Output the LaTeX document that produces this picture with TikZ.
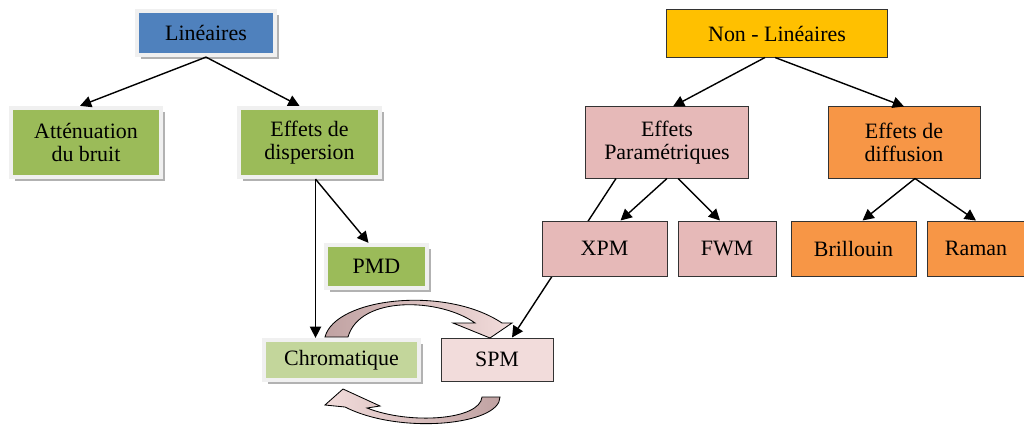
\documentclass[tikz,border=0pt]{standalone}
\usepackage{fontspec}
\setmainfont{Liberation Serif}
\usetikzlibrary{arrows.meta,shadows}

\definecolor{bleu}{HTML}{4F81BD}
\definecolor{vert}{HTML}{9BBB59}
\definecolor{vertclair}{HTML}{C3D69B}
\definecolor{jaune}{HTML}{FFC000}
\definecolor{rose}{HTML}{E6B9B8}
\definecolor{roseclair}{HTML}{F2DCDB}
\definecolor{orange}{HTML}{F79646}
\definecolor{rosefonce}{HTML}{C0A2A2}

\tikzset{
  lbox/.style={draw=black!6, line width=3pt, align=center, inner sep=0pt,
    drop shadow={shadow xshift=2.8pt, shadow yshift=-2.8pt, fill=black!30, opacity=1}},
  nbox/.style={draw=black!80, line width=0.7pt, align=center, inner sep=0pt},
  arr/.style={-{Triangle[length=8pt,width=8pt]}, line width=1pt},
}

\begin{document}
\begin{tikzpicture}[x=0.025cm, y=-0.025cm,
  every node/.style={font=\fontsize{15.6}{16.5}\selectfont}]
  \useasboundingbox (0,0) rectangle (1024,426);

  % effets lineaires
  \node[lbox, fill=bleu, minimum width=3.45cm, minimum height=1.1cm] (lin) at (206,33) {Linéaires};
  \node[lbox, fill=vert, minimum width=3.75cm, minimum height=1.725cm] (att) at (86,142.5) {Atténuation\\du bruit};
  \node[lbox, fill=vert, minimum width=3.525cm, minimum height=1.725cm] (disp) at (309.5,142.5) {Effets de\\dispersion};
  \node[lbox, fill=vert, minimum width=2.525cm, minimum height=1.075cm] (pmd) at (376.5,266.5) {PMD};
  \node[lbox, fill=vertclair, minimum width=3.875cm, minimum height=1.0cm] (chrom) at (341.5,360) {Chromatique};

  % effets non lineaires
  \node[nbox, fill=roseclair, minimum width=2.8cm, minimum height=1.075cm] (spm) at (497,359.5) {SPM};
  \node[nbox, fill=jaune, minimum width=5.5cm, minimum height=1.175cm] (nl) at (777,33.5) {Non - Linéaires};
  \node[nbox, fill=rose, minimum width=4.05cm, minimum height=1.775cm] (param) at (667,142.5) {Effets\\Paramétriques};
  \node[nbox, fill=orange, minimum width=3.8cm, minimum height=1.775cm] (diff) at (904,142.5) {Effets de\\diffusion};
  \draw[arr] ([xshift=-1.275cm]param.south) -- ([xshift=0.375cm]spm.north);
  \node[nbox, fill=rose, minimum width=3.125cm, minimum height=1.375cm] (xpm) at (604.5,248.5) {XPM};
  \node[nbox, fill=rose, minimum width=2.45cm, minimum height=1.375cm] (fwm) at (727,248.5) {FWM};
  \node[nbox, fill=orange, minimum width=3.125cm, minimum height=1.375cm] (bri) at (853.5,248.5) {Brillouin};
  \node[nbox, fill=orange, minimum width=2.45cm, minimum height=1.375cm] (ram) at (976,248.5) {Raman};

  \draw[arr] (lin.south) -- ([xshift=-0.15cm]att.north);
  \draw[arr] (lin.south) -- ([xshift=-0.25cm]disp.north);
  \draw[arr] ([xshift=0.15cm]disp.south) -- ([xshift=-0.2cm]pmd.north);
  \draw[arr] ([xshift=0.15cm]disp.south) -- ([xshift=0.15cm]disp.south |- chrom.north);

  \draw[arr] ([xshift=-0.3cm]nl.south) -- ([xshift=0.15cm]param.north);
  \draw[arr] ([xshift=-0.05cm]nl.south) -- (diff.north);
  \draw[arr] (param.south) -- ([xshift=0.4cm]xpm.north);
  \draw[arr] ([xshift=0.275cm]param.south) -- ([xshift=-0.175cm]fwm.north);
  \draw[arr] ([xshift=0.275cm]diff.south) -- ([xshift=0.225cm]bri.north);
  \draw[arr] ([xshift=0.275cm]diff.south) -- (ram.north);

  % fleches courbes entre Chromatique et SPM
  \draw[line width=0.6pt, left color=rosefonce, right color=roseclair]
    (325,337) .. controls (335,298) and (445,285) .. (502,323) -- (512,323) -- (490,338)
    -- (453,323) -- (475,323) .. controls (440,298) and (360,295) .. (348,337) -- cycle;
  \draw[line width=0.6pt, right color=rosefonce, left color=roseclair]
    (500,397) .. controls (500,425) and (400,435) .. (345,407) -- (325,405) -- (343,389)
    -- (380,406) -- (367,408) .. controls (410,425) and (480,420) .. (482,397) -- cycle;
\end{tikzpicture}
\end{document}
